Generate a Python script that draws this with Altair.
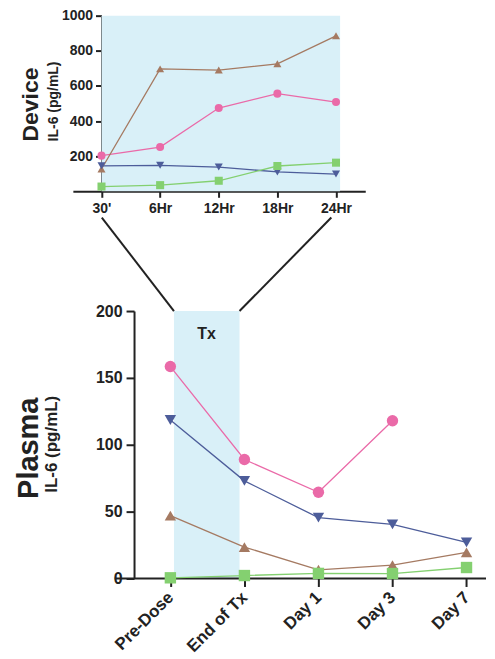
import json
import altair as alt
import pandas as pd

# ---------------- data ----------------
series = ["S1", "S2", "S3", "S4"]
point_colors = ["#e8408f", "#9b5f3f", "#2a3f8f", "#5cbf48"]
line_colors = ["#ea6aa8", "#a57a62", "#4d5d9a", "#84d070"]
shapes = ["circle", "triangle-up", "triangle-down", "square"]

device_times = ["30'", "6Hr", "12Hr", "18Hr", "24Hr"]
device_s1 = [203, 252, 474, 556, 508]
device_s2 = [127, 697, 690, 726, 885]
device_s3 = [145, 148, 138, 110, 98]
device_s4 = [27, 35, 60, 144, 163]

plasma_times = ["Pre-Dose", "End of Tx", "Day 1", "Day 3", "Day 7"]
plasma_s1 = [158.5, 89, 64.5, 118, None]
plasma_s2 = [47, 23.5, 6.5, 10, 19.5]
plasma_s3 = [118.5, 73, 45.5, 40.5, 27]
plasma_s4 = [0.5, 2.2, 3.8, 3.7, 8.2]

device_ticks = [200, 400, 600, 800, 1000]
plasma_ticks = [0, 50, 100, 150, 200]

SHADE = "#d9f0f8"
INK = "#222222"
FONT = "Liberation Sans"


def long_df(times, cols):
    rows = []
    for s, vals in zip(series, cols):
        for i, v in enumerate(vals):
            if v is not None:
                rows.append({"idx": i, "value": v, "series": s})
    return pd.DataFrame(rows)


dev_df = long_df(device_times, [device_s1, device_s2, device_s3, device_s4])
pl_df = long_df(plasma_times, [plasma_s1, plasma_s2, plasma_s3, plasma_s4])

line_color = alt.Color("series:N", scale=alt.Scale(domain=series, range=line_colors), legend=None)
pt_color = alt.Color("series:N", scale=alt.Scale(domain=series, range=point_colors), legend=None)
pt_shape = alt.Shape("series:N", scale=alt.Scale(domain=series, range=shapes), legend=None)

# ---------------- top (Device) ----------------
tx_scale = alt.Scale(domain=[-0.4885, 4.499], nice=False, zero=False)
ty_scale = alt.Scale(domain=[0, 1000], nice=False)
tx_axis = alt.Axis(values=[0, 1, 2, 3, 4], labelExpr=json.dumps(device_times) + "[datum.value]",
                   title=None, grid=False, tickSize=6, labelPadding=4, labelFontSize=14,
                   labelAngle=0)
ty_axis = alt.Axis(values=device_ticks, format="d", title=None, grid=False, tickSize=6,
                   labelPadding=3, labelFontSize=14, offset=-28.7)


def tX(f):
    return alt.X(f, type="quantitative", scale=tx_scale, axis=tx_axis)


def tY(f):
    return alt.Y(f, type="quantitative", scale=ty_scale, axis=ty_axis)


top_shade = pd.DataFrame({"x0": [0], "x1": [4.07], "y0": [0], "y1": [1000]})
top_rect = alt.Chart(top_shade).mark_rect(color=SHADE).encode(
    x=tX("x0"), x2="x1", y=tY("y0"), y2="y1")
top_lines = alt.Chart(dev_df).mark_line(strokeWidth=1.3).encode(
    x=tX("idx"), y=tY("value"), color=line_color, detail="series:N")
top_pts = alt.Chart(dev_df).mark_point(filled=True, opacity=1, size=65).encode(
    x=tX("idx"), y=tY("value"), color=pt_color, shape=pt_shape)
top_t1 = alt.Chart(pd.DataFrame({"t": ["Device"]})).mark_text(
    angle=270, font=FONT, fontWeight="bold", fontSize=23, color=INK,
    align="center", baseline="middle").encode(x=alt.value(-42), y=alt.value(89), text="t:N")
top_t2 = alt.Chart(pd.DataFrame({"t": ["IL-6 (pg/mL)"]})).mark_text(
    angle=270, font=FONT, fontWeight="bold", fontSize=14, color=INK,
    align="center", baseline="middle").encode(x=alt.value(-18.5), y=alt.value(86), text="t:N")

top = alt.layer(top_rect, top_lines, top_pts, top_t1, top_t2).properties(width=293, height=176)

# ---------------- bottom (Plasma) ----------------
bx_scale = alt.Scale(domain=[-1.317, 4.263], nice=False, zero=False)
by_scale = alt.Scale(domain=[0, 200], nice=False)
bx_axis = alt.Axis(values=[0, 1, 2, 3, 4], labelExpr=json.dumps(plasma_times) + "[datum.value]",
                   title=None, grid=False, tickSize=8, labelPadding=8, labelFontSize=17,
                   labelAngle=-45, labelAlign="right", labelBaseline="middle", domain=False)
by_axis = alt.Axis(values=plasma_ticks, title=None, grid=False, tickSize=8, labelPadding=4,
                   labelFontSize=16, offset=-61.3)


def bX(f):
    return alt.X(f, type="quantitative", scale=bx_scale, axis=bx_axis)


def bY(f):
    return alt.Y(f, type="quantitative", scale=by_scale, axis=by_axis)


bot_shade = pd.DataFrame({"x0": [0.0485], "x1": [0.934], "y0": [0], "y1": [200]})
connect = pd.DataFrame({"x0": [-0.926, 2.174], "x1": [0.0485, 0.934],
                        "y0": [269.9, 269.9], "y1": [200, 200]})
baseline = pd.DataFrame({"x0": [-0.751], "x1": [4.263], "y0": [0]})
tx_label = pd.DataFrame({"idx": [0.49], "value": [183], "t": ["Tx"]})

b_rect = alt.Chart(bot_shade).mark_rect(color=SHADE).encode(
    x=bX("x0"), x2="x1", y=bY("y0"), y2="y1")
b_base = alt.Chart(baseline).mark_rule(color=INK, strokeWidth=2).encode(
    x=bX("x0"), x2="x1", y=bY("y0"))
b_conn = alt.Chart(connect).mark_rule(color=INK, strokeWidth=2).encode(
    x=bX("x0"), x2="x1", y=bY("y0"), y2="y1")
b_lines = alt.Chart(pl_df).mark_line(strokeWidth=1.3).encode(
    x=bX("idx"), y=bY("value"), color=line_color, detail="series:N")
b_pts = alt.Chart(pl_df).mark_point(filled=True, opacity=1, size=130).encode(
    x=bX("idx"), y=bY("value"), color=pt_color, shape=pt_shape)
b_tx = alt.Chart(tx_label).mark_text(font=FONT, fontWeight="bold", fontSize=16, color=INK).encode(
    x=bX("idx"), y=bY("value"), text="t:N")
b_t1 = alt.Chart(pd.DataFrame({"t": ["Plasma"]})).mark_text(
    angle=270, font=FONT, fontWeight="bold", fontSize=29, color=INK,
    align="center", baseline="middle").encode(x=alt.value(-44), y=alt.value(137.5), text="t:N")
b_t2 = alt.Chart(pd.DataFrame({"t": ["IL-6 (pg/mL)"]})).mark_text(
    angle=270, font=FONT, fontWeight="bold", fontSize=17, color=INK,
    align="center", baseline="middle").encode(x=alt.value(-20.5), y=alt.value(133.5), text="t:N")

bottom = alt.layer(b_rect, b_conn, b_base, b_lines, b_pts, b_tx, b_t1, b_t2).properties(
    width=414, height=268)

chart = alt.vconcat(top, bottom, spacing=1).properties(
    padding={"left": 7, "top": 0, "right": 0, "bottom": 0}
).configure_axis(
    labelFont=FONT, labelFontWeight="bold", labelColor=INK, domainColor=INK,
    tickColor=INK, domainWidth=2, tickWidth=2
).configure_view(stroke=None)

chart.save("out.html", embed_options={"renderer": "svg", "actions": False})
